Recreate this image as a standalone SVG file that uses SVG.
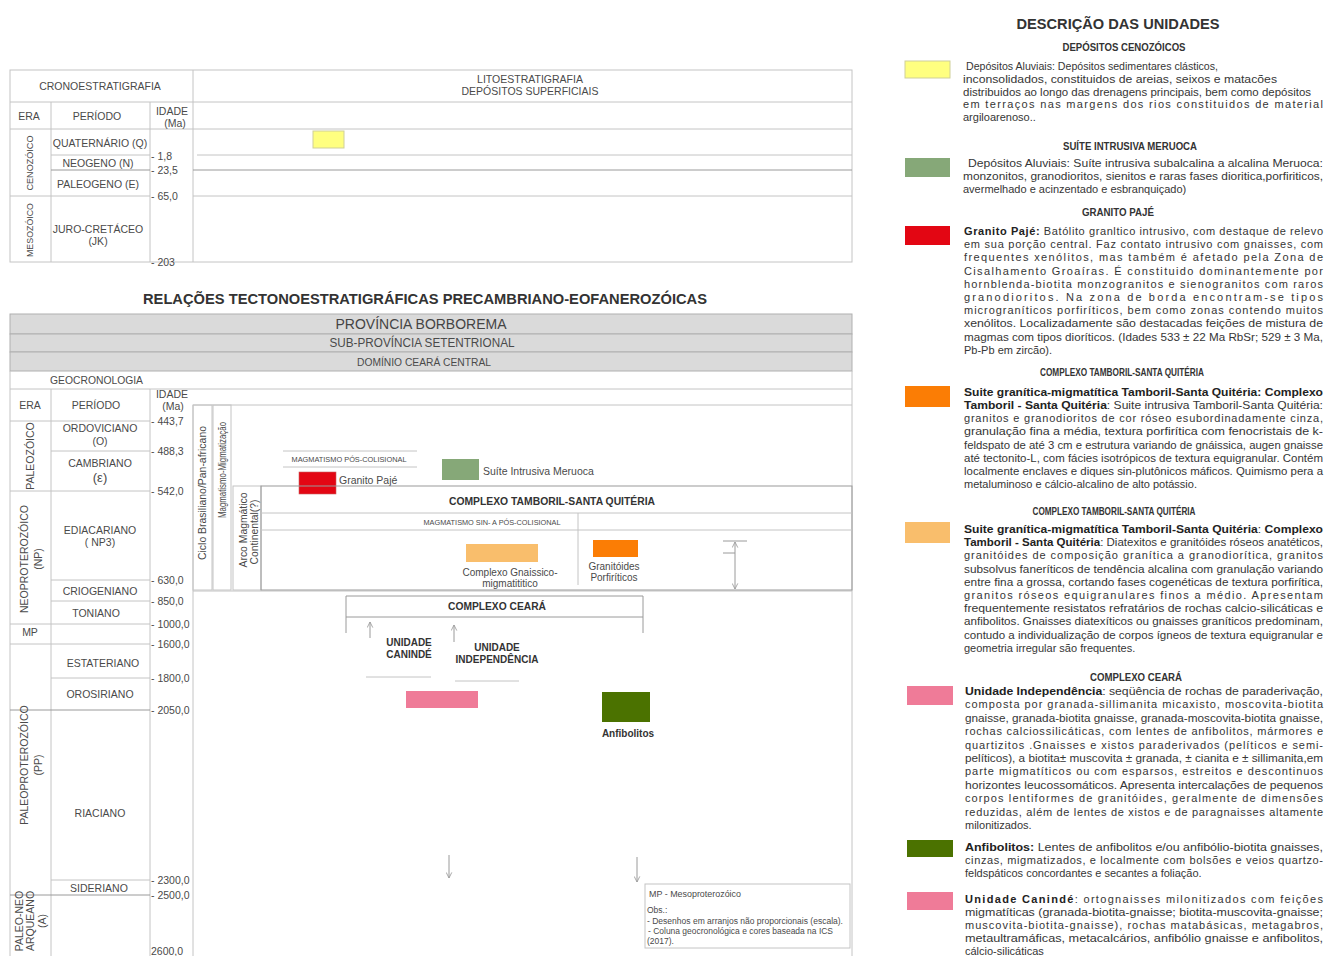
<svg xmlns="http://www.w3.org/2000/svg" width="1327" height="956" viewBox="0 0 1327 956">
<defs>
<style>
.t{font-family:"Liberation Sans",Arial,sans-serif;fill:#4a4a4a;font-size:10.5px}
.c{text-anchor:middle}
.b{font-weight:bold;fill:#333}
.s{font-size:7.5px}
.g{stroke:#c4c4c4;stroke-width:1;fill:none}
.gd{stroke:#9a9a9a;stroke-width:1;fill:none}
.band{fill:#dadada;stroke:#b0b0b0;stroke-width:1}
.lg{font-family:"Liberation Sans",Arial,sans-serif;fill:#363636;font-size:11px}
.lh{font-family:"Liberation Sans",Arial,sans-serif;fill:#333;font-size:11px;font-weight:bold;text-anchor:middle}
.bw{font-weight:bold;fill:#222}
.ar{stroke:#9a9a9a;stroke-width:1;fill:none}
</style>
<marker id="ah" viewBox="0 0 10 10" refX="9" refY="5" markerWidth="7" markerHeight="7" orient="auto-start-reverse">
<path d="M1,1 L9,5 L1,9" fill="none" stroke="#9a9a9a" stroke-width="1.2"/>
</marker>
</defs>
<rect width="1327" height="956" fill="#ffffff"/>

<!-- TOP TABLE -->
<g id="cronoestratigrafia">
<rect x="10" y="70" width="842" height="192" class="g"/>
<path class="g" d="M193 70V262 M10 102H852 M10 129H852 M51 102V262 M150 102V262 M51 155H150 M197 155H852 M10 196H150 M193 196H852"/>
<path class="gd" d="M51 170H150 M193 170H852"/>
<text class="t c" x="100" y="90">CRONOESTRATIGRAFIA</text>
<text class="t c" x="530" y="83">LITOESTRATIGRAFIA</text>
<text class="t c" x="530" y="95">DEPÓSITOS SUPERFICIAIS</text>
<text class="t c" x="29" y="120">ERA</text>
<text class="t c" x="97" y="120">PERÍODO</text>
<text class="t c" x="172" y="115">IDADE</text>
<text class="t c" x="175" y="127">(Ma)</text>
<text class="t c" x="100" y="147">QUATERNÁRIO (Q)</text>
<text class="t c" x="98" y="166.5">NEOGENO (N)</text>
<text class="t c" x="98" y="188">PALEOGENO (E)</text>
<text class="t c" x="98" y="233">JURO-CRETÁCEO</text>
<text class="t c" x="98" y="245">(JK)</text>
<text class="t c" style="font-size:9.5px" transform="translate(29,163) rotate(-90)" x="0" y="4" textLength="55" lengthAdjust="spacingAndGlyphs">CENOZÓICO</text>
<text class="t c" style="font-size:9.5px" transform="translate(29,230) rotate(-90)" x="0" y="4" textLength="54" lengthAdjust="spacingAndGlyphs">MESOZÓICO</text>
<text class="t" x="151" y="159.5">- 1,8</text>
<text class="t" x="151" y="174">- 23,5</text>
<text class="t" x="151" y="200">- 65,0</text>
<text class="t" x="151" y="266">- 203</text>
<rect x="313" y="131" width="31" height="17" fill="#ffff80" stroke="#cfcf9a"/>
</g>

<!-- TITLE -->
<g id="titulo">
<text class="t b c" x="425" y="304" style="font-size:15px" textLength="564" lengthAdjust="spacingAndGlyphs">RELAÇÕES TECTONOESTRATIGRÁFICAS PRECAMBRIANO-EOFANEROZÓICAS</text>
</g>

<!-- LOWER TABLE FRAME -->
<g id="quadro">
<rect x="10" y="314" width="842" height="20" class="band"/>
<rect x="10" y="334" width="842" height="18" class="band"/>
<rect x="10" y="352" width="842" height="19" class="band"/>
<text class="t c" x="421" y="329" style="font-size:14px;fill:#444" textLength="171" lengthAdjust="spacingAndGlyphs">PROVÍNCIA BORBOREMA</text>
<text class="t c" x="422" y="347" style="font-size:12px" textLength="185" lengthAdjust="spacingAndGlyphs">SUB-PROVÍNCIA SETENTRIONAL</text>
<text class="t c" x="424" y="365.5" style="font-size:10px" textLength="134" lengthAdjust="spacingAndGlyphs">DOMÍNIO CEARÁ CENTRAL</text>
<path class="g" d="M10 371V956 M852 371V956 M10 389H852 M51 389V956 M150 389V956 M193 405V956 M193 405H852"/>
<text class="t" x="50" y="384" textLength="93" lengthAdjust="spacingAndGlyphs">GEOCRONOLOGIA</text>
</g>

<g id="geocronologia">
<path class="g" d="M10 421H150 M51 451H150 M10 491H150 M51 580H150 M51 601H150 M10 624H150 M10 644H150 M51 678H150 M51 880H150"/>
<path class="gd" d="M10 710H150 M10 895H150"/>
<text class="t c" x="30" y="409">ERA</text>
<text class="t c" x="96" y="409">PERÍODO</text>
<text class="t c" x="172" y="398">IDADE</text>
<text class="t c" x="173" y="410">(Ma)</text>
<text class="t c" x="100" y="432">ORDOVICIANO</text>
<text class="t c" x="100" y="445">(O)</text>
<text class="t c" x="100" y="467">CAMBRIANO</text>
<text class="t c" x="100" y="482" style="font-size:13px">(ε)</text>
<text class="t c" x="100" y="534">EDIACARIANO</text>
<text class="t c" x="100" y="546">( NP3)</text>
<text class="t c" x="100" y="595">CRIOGENIANO</text>
<text class="t c" x="96" y="617">TONIANO</text>
<text class="t c" x="30" y="636">MP</text>
<text class="t c" x="103" y="667">ESTATERIANO</text>
<text class="t c" x="100" y="698">OROSIRIANO</text>
<text class="t c" x="100" y="817">RIACIANO</text>
<text class="t c" x="99" y="892">SIDERIANO</text>
<text class="t c" transform="translate(30,456) rotate(-90)" x="0" y="4">PALEOZÓICO</text>
<text class="t c" transform="translate(24,559) rotate(-90)" x="0" y="4">NEOPROTEROZÓICO</text>
<text class="t c" transform="translate(38,559) rotate(-90)" x="0" y="4">(NP)</text>
<text class="t c" transform="translate(24,765) rotate(-90)" x="0" y="4">PALEOPROTEROZÓICO</text>
<text class="t c" transform="translate(38,765) rotate(-90)" x="0" y="4">(PP)</text>
<text class="t c" transform="translate(19,921) rotate(-90)" x="0" y="4">PALEO-NEO</text>
<text class="t c" transform="translate(30,921) rotate(-90)" x="0" y="4">ARQUEANO</text>
<text class="t c" transform="translate(42,921) rotate(-90)" x="0" y="4">(A)</text>
<text class="t" x="151" y="425">- 443,7</text>
<text class="t" x="151" y="455">- 488,3</text>
<text class="t" x="151" y="495">- 542,0</text>
<text class="t" x="151" y="584">- 630,0</text>
<text class="t" x="151" y="605">- 850,0</text>
<text class="t" x="151" y="628">- 1000,0</text>
<text class="t" x="151" y="648">- 1600,0</text>
<text class="t" x="151" y="682">- 1800,0</text>
<text class="t" x="151" y="714">- 2050,0</text>
<text class="t" x="151" y="884">- 2300,0</text>
<text class="t" x="151" y="899">- 2500,0</text>
<text class="t" x="151" y="954.5">2600,0</text>
</g>

<g id="ciclo-brasiliano">
<rect x="193" y="405" width="19" height="185" class="g"/>
<text class="t c" style="font-size:10px" transform="translate(202,493) rotate(-90)" x="0" y="4" textLength="134" lengthAdjust="spacingAndGlyphs">Ciclo Brasiliano/Pan-africano</text>
</g>
<g id="magmatismo-migmatizacao">
<rect x="213" y="405" width="18" height="185" class="g"/>
<text class="t c" style="font-size:10px" transform="translate(222,470) rotate(-90)" x="0" y="4" textLength="96" lengthAdjust="spacingAndGlyphs">Magmatismo-Migmatização</text>
</g>
<g id="arco-magmatico">
<rect x="233" y="486" width="28" height="104" class="g"/>
<text class="t c" style="font-size:10px" transform="translate(243,530) rotate(-90)" x="0" y="4" textLength="75" lengthAdjust="spacingAndGlyphs">Arco Magmático</text>
<text class="t c" style="font-size:10px" transform="translate(254,532) rotate(-90)" x="0" y="4" textLength="65" lengthAdjust="spacingAndGlyphs">Continental(?)</text>
</g>
<path class="g" d="M193 591H852"/>

<g id="magmatismo-pos-colisional">
<path class="g" d="M283 451H417 M283 467H417"/>
<text class="t c s" x="349" y="462" textLength="115" lengthAdjust="spacingAndGlyphs">MAGMATISMO PÓS-COLISIONAL</text>
</g>
<g id="granito-paje">
<rect x="299" y="472" width="37" height="22" fill="#e30613" stroke="#c96060" stroke-width="0.6"/>
<text class="t" x="339" y="484">Granito Pajé</text>
</g>
<g id="suite-meruoca">
<rect x="442" y="459" width="37" height="21" fill="#86a878"/>
<text class="t" x="483" y="475">Suíte Intrusiva Meruoca</text>
</g>

<g id="complexo-tamboril">
<rect x="261" y="486" width="591" height="104" class="gd"/>
<path class="g" d="M261 513H852 M261 530H852 M578 513V585"/>
<text class="t b c" x="552" y="505" style="font-size:10px" textLength="206" lengthAdjust="spacingAndGlyphs">COMPLEXO TAMBORIL-SANTA QUITÉRIA</text>
<text class="t c s" x="492" y="524.5" textLength="137" lengthAdjust="spacingAndGlyphs">MAGMATISMO SIN- A PÓS-COLISIONAL</text>
</g>
<g id="complexo-gnaissico">
<rect x="466" y="544" width="72" height="18" fill="#f9be6c"/>
<text class="t c" x="510" y="576" style="font-size:10px">Complexo Gnaissico-</text>
<text class="t c" x="510" y="587" style="font-size:10px">migmatititico</text>
</g>
<g id="granitoides-porfiriticos">
<rect x="593" y="540" width="45" height="17" fill="#fb7d05"/>
<text class="t c" x="614" y="570" style="font-size:10px">Granitóides</text>
<text class="t c" x="614" y="581" style="font-size:10px">Porfiríticos</text>
</g>

<g id="complexo-ceara">
<path class="gd" d="M346 633V596H643V633 M346 617H643"/>
<text class="t b c" x="497" y="610" style="font-size:10px" textLength="98" lengthAdjust="spacingAndGlyphs">COMPLEXO CEARÁ</text>
</g>
<g id="unidade-caninde">
<text class="t b c" x="409" y="646" style="font-size:10px">UNIDADE</text>
<text class="t b c" x="409" y="658" style="font-size:10px">CANINDÉ</text>
<path class="g" d="M366 677H431"/>
<rect x="406" y="691" width="72" height="17" fill="#ef7b98"/>
</g>
<g id="unidade-independencia">
<text class="t b c" x="497" y="651" style="font-size:10px">UNIDADE</text>
<text class="t b c" x="497" y="663" style="font-size:10px">INDEPENDÊNCIA</text>
<path class="g" d="M455 681H519"/>
</g>
<g id="anfibolitos">
<rect x="602" y="692" width="48" height="30" fill="#4b7200"/>
<text class="t b c" x="628" y="737" style="font-size:10px">Anfibolitos</text>
</g>

<g id="conectores">
<line class="ar" x1="370" y1="638" x2="370" y2="622" marker-end="url(#ah)"/>
<line class="ar" x1="454" y1="642" x2="454" y2="625" marker-end="url(#ah)"/>
<line class="ar" x1="449" y1="855" x2="449" y2="878" marker-end="url(#ah)"/>
<line class="ar" x1="637" y1="857" x2="637" y2="882" marker-end="url(#ah)"/>
<line class="ar" x1="735" y1="542" x2="735" y2="589" marker-start="url(#ah)" marker-end="url(#ah)"/>
<path class="ar" d="M723 541H747 M723 553H735"/>
</g>

<g id="nota">
<rect x="645" y="884" width="205" height="64" class="g"/>
<text class="t" x="649" y="897" style="font-size:9px" textLength="92" lengthAdjust="spacingAndGlyphs">MP - Mesoproterozóico</text>
<text class="t" x="647" y="913" style="font-size:8.5px">Obs.:</text>
<text class="t" x="647" y="924" style="font-size:8.5px" textLength="196" lengthAdjust="spacingAndGlyphs">- Desenhos em arranjos não proporcionais (escala).</text>
<text class="t" x="648" y="934" style="font-size:8.5px" textLength="185" lengthAdjust="spacingAndGlyphs"> - Coluna geocronológica e cores baseada na ICS</text>
<text class="t" x="647" y="944" style="font-size:8.5px">(2017).</text>
</g>

<!-- LEGEND -->
<g id="legenda-titulo">
<text class="lh" x="1118" y="29" style="font-size:15px" textLength="203" lengthAdjust="spacingAndGlyphs">DESCRIÇÃO DAS UNIDADES</text>
</g>

<g id="leg-depositos-cenozoicos">
<text class="lh" x="1124" y="51" style="font-size:10.5px" textLength="123" lengthAdjust="spacingAndGlyphs">DEPÓSITOS CENOZÓICOS</text>
<rect x="905" y="61" width="45" height="17" fill="#ffff80" stroke="#cfcf9a"/>
<text class="lg" x="966" y="70" textLength="252" lengthAdjust="spacingAndGlyphs">Depósitos Aluviais: Depósitos sedimentares clásticos,</text>
<text class="lg" x="963" y="82.8" textLength="314" lengthAdjust="spacingAndGlyphs">inconsolidados, constituidos de areias, seixos e matacões</text>
<text class="lg" x="963" y="95.6" textLength="348" lengthAdjust="spacingAndGlyphs">distribuidos ao longo das drenagens principais, bem como depósitos</text>
<text class="lg" x="963" y="108.4" textLength="360">em terraços nas margens dos rios constituidos de material</text>
<text class="lg" x="963" y="121.2">argiloarenoso..</text>
</g>

<g id="leg-suite-meruoca">
<text class="lh" x="1130" y="150" style="font-size:10.5px" textLength="134" lengthAdjust="spacingAndGlyphs">SUÍTE INTRUSIVA MERUOCA</text>
<rect x="905" y="158" width="45" height="19" fill="#86a878"/>
<text class="lg" x="968" y="167" textLength="355" lengthAdjust="spacingAndGlyphs">Depósitos Aluviais: Suíte intrusiva subalcalina a alcalina Meruoca:</text>
<text class="lg" x="963" y="180" textLength="360" lengthAdjust="spacingAndGlyphs">monzonitos, granodioritos, sienitos e raras fases dioritica,porfiriticos,</text>
<text class="lg" x="963" y="193">avermelhado e acinzentado e esbranquiçado)</text>
</g>

<g id="leg-granito-paje">
<text class="lh" x="1118" y="216" style="font-size:10.5px" textLength="72" lengthAdjust="spacingAndGlyphs">GRANITO PAJÉ</text>
<rect x="905" y="226" width="45" height="19" fill="#e30613"/>
<text class="lg" x="964" y="235" textLength="359"><tspan class="bw">Granito Pajé:</tspan> Batólito granltico intrusivo, com destaque de relevo</text>
<text class="lg" x="964" y="248.2" textLength="359">em sua porção central. Faz contato intrusivo com gnaisses, com</text>
<text class="lg" x="964" y="261.4" textLength="359">frequentes xenólitos, mas também é afetado pela Zona de</text>
<text class="lg" x="964" y="274.6" textLength="359">Cisalhamento Groaíras. É constituido dominantemente por</text>
<text class="lg" x="964" y="287.8" textLength="359">hornblenda-biotita monzogranitos e sienogranitos com raros</text>
<text class="lg" x="964" y="301" textLength="359">granodioritos. Na zona de borda encontram-se tipos</text>
<text class="lg" x="964" y="314.2" textLength="359">micrograníticos porfiríticos, bem como zonas contendo muitos</text>
<text class="lg" x="964" y="327.4" textLength="359" lengthAdjust="spacingAndGlyphs">xenólitos. Localizadamente são destacadas feições de mistura de</text>
<text class="lg" x="964" y="340.6" textLength="359" lengthAdjust="spacingAndGlyphs">magmas com tipos dioríticos. (Idades 533 ± 22 Ma RbSr; 529 ± 3 Ma,</text>
<text class="lg" x="964" y="353.8">Pb-Pb em zircão).</text>
</g>

<g id="leg-tamboril-suite">
<text class="lh" x="1122" y="376" style="font-size:10.5px" textLength="164" lengthAdjust="spacingAndGlyphs">COMPLEXO TAMBORIL-SANTA QUITÉRIA</text>
<rect x="905" y="386" width="45" height="21" fill="#fb7d05"/>
<text class="lg" x="964" y="396" textLength="359" lengthAdjust="spacingAndGlyphs"><tspan class="bw">Suite granítica-migmatítica Tamboril-Santa Quitéria: Complexo</tspan></text>
<text class="lg" x="964" y="409.1" textLength="359" lengthAdjust="spacingAndGlyphs"><tspan class="bw">Tamboril - Santa Quitéria</tspan>: Suite intrusiva Tamboril-Santa Quitéria:</text>
<text class="lg" x="964" y="422.3" textLength="359">granitos e granodioritos de cor róseo esubordinadamente cinza,</text>
<text class="lg" x="964" y="435.4" textLength="359" lengthAdjust="spacingAndGlyphs">granulação fina a média, textura porfirítica com fenocristais de k-</text>
<text class="lg" x="964" y="448.6" textLength="359" lengthAdjust="spacingAndGlyphs">feldspato de até 3 cm e estrutura variando de gnáissica, augen gnaisse</text>
<text class="lg" x="964" y="461.7" textLength="359" lengthAdjust="spacingAndGlyphs">até tectonito-L, com fácies isotrópicos de textura equigranular. Contém</text>
<text class="lg" x="964" y="474.8" textLength="359" lengthAdjust="spacingAndGlyphs">localmente enclaves e diques sin-plutônicos máficos. Quimismo pera a</text>
<text class="lg" x="964" y="488">metaluminoso e cálcio-alcalino de alto potássio.</text>
</g>

<g id="leg-tamboril-complexo">
<text class="lh" x="1114" y="515" style="font-size:10.5px" textLength="163" lengthAdjust="spacingAndGlyphs">COMPLEXO TAMBORIL-SANTA QUITÉRIA</text>
<rect x="905" y="522" width="45" height="21" fill="#f9be6c"/>
<text class="lg" x="964" y="533" textLength="359" lengthAdjust="spacingAndGlyphs"><tspan class="bw">Suite granítica-migmatítica Tamboril-Santa Quitéria</tspan>: <tspan class="bw">Complexo</tspan></text>
<text class="lg" x="964" y="546.2" textLength="359" lengthAdjust="spacingAndGlyphs"><tspan class="bw">Tamboril - Santa Quitéria</tspan>: Diatexitos e granitóides róseos anatéticos,</text>
<text class="lg" x="964" y="559.4" textLength="359">granitóides de composição granítica a granodiorítica, granitos</text>
<text class="lg" x="964" y="572.6" textLength="359" lengthAdjust="spacingAndGlyphs">subsolvus faneríticos de tendência alcalina com granulação variando</text>
<text class="lg" x="964" y="585.8" textLength="359" lengthAdjust="spacingAndGlyphs">entre fina a grossa, cortando fases cogenéticas de textura porfirítica,</text>
<text class="lg" x="964" y="599" textLength="359">granitos róseos equigranulares finos a médio.  Apresentam</text>
<text class="lg" x="964" y="612.2" textLength="359" lengthAdjust="spacingAndGlyphs">frequentemente resistatos refratários de rochas calcio-silicáticas e</text>
<text class="lg" x="964" y="625.4" textLength="359" lengthAdjust="spacingAndGlyphs">anfibolitos. Gnaisses diatexíticos ou gnaisses graníticos predominam,</text>
<text class="lg" x="964" y="638.6" textLength="359" lengthAdjust="spacingAndGlyphs">contudo a individualização de corpos ígneos de textura equigranular e</text>
<text class="lg" x="964" y="651.8">geometria irregular são frequentes.</text>
</g>

<g id="leg-unidade-independencia">
<text class="lh" x="1136" y="681" style="font-size:10.5px" textLength="92" lengthAdjust="spacingAndGlyphs">COMPLEXO CEARÁ</text>
<rect x="907" y="686" width="46" height="19" fill="#ef7b98"/>
<text class="lg" x="965" y="695" textLength="358" lengthAdjust="spacingAndGlyphs"><tspan class="bw">Unidade Independência</tspan>: seqüência de rochas de paraderivação,</text>
<text class="lg" x="965" y="708.4" textLength="358">composta por granada-sillimanita micaxisto, moscovita-biotita</text>
<text class="lg" x="965" y="721.8" textLength="358" lengthAdjust="spacingAndGlyphs">gnaisse, granada-biotita gnaisse, granada-moscovita-biotita gnaisse,</text>
<text class="lg" x="965" y="735.2" textLength="358">rochas calciossilicáticas, com lentes de anfibolitos, mármores e</text>
<text class="lg" x="965" y="748.6" textLength="358">quartizitos .Gnaisses e xistos paraderivados (pelíticos e semi-</text>
<text class="lg" x="965" y="762" textLength="358" lengthAdjust="spacingAndGlyphs">pelíticos), a biotita± muscovita ± granada, ± cianita e ± sillimanita,em</text>
<text class="lg" x="965" y="775.4" textLength="358">parte migmatíticos ou com esparsos, estreitos e descontinuos</text>
<text class="lg" x="965" y="788.8" textLength="358" lengthAdjust="spacingAndGlyphs">horizontes leucossomáticos. Apresenta intercalações de pequenos</text>
<text class="lg" x="965" y="802.2" textLength="358">corpos lentiformes de granitóides, geralmente de dimensões</text>
<text class="lg" x="965" y="815.6" textLength="358">reduzidas, além de lentes de xistos e de paragnaisses altamente</text>
<text class="lg" x="965" y="829">milonitizados.</text>
</g>

<g id="leg-anfibolitos">
<rect x="907" y="840" width="46" height="17" fill="#4b7200"/>
<text class="lg" x="965" y="851" textLength="358" lengthAdjust="spacingAndGlyphs"><tspan class="bw">Anfibolitos:</tspan> Lentes de anfibolitos e/ou anfibólio-biotita gnaisses,</text>
<text class="lg" x="965" y="864" textLength="358">cinzas, migmatizados, e localmente com bolsões e veios quartzo-</text>
<text class="lg" x="965" y="877">feldspáticos concordantes e secantes a foliação.</text>
</g>

<g id="leg-unidade-caninde">
<rect x="907" y="892" width="46" height="18" fill="#ef7b98"/>
<text class="lg" x="965" y="903" textLength="358"><tspan class="bw">Unidade Canindé</tspan>: ortognaisses milonitizados com feições</text>
<text class="lg" x="965" y="916" textLength="358" lengthAdjust="spacingAndGlyphs">migmatíticas (granada-biotita-gnaisse; biotita-muscovita-gnaisse;</text>
<text class="lg" x="965" y="929" textLength="358">muscovita-biotita-gnaisse), rochas matabásicas, metagabros,</text>
<text class="lg" x="965" y="942" textLength="358" lengthAdjust="spacingAndGlyphs">metaultramáficas, metacalcários, anfibólio gnaisse e anfibolitos,</text>
<text class="lg" x="965" y="955">cálcio-silicáticas</text>
</g>
</svg>
